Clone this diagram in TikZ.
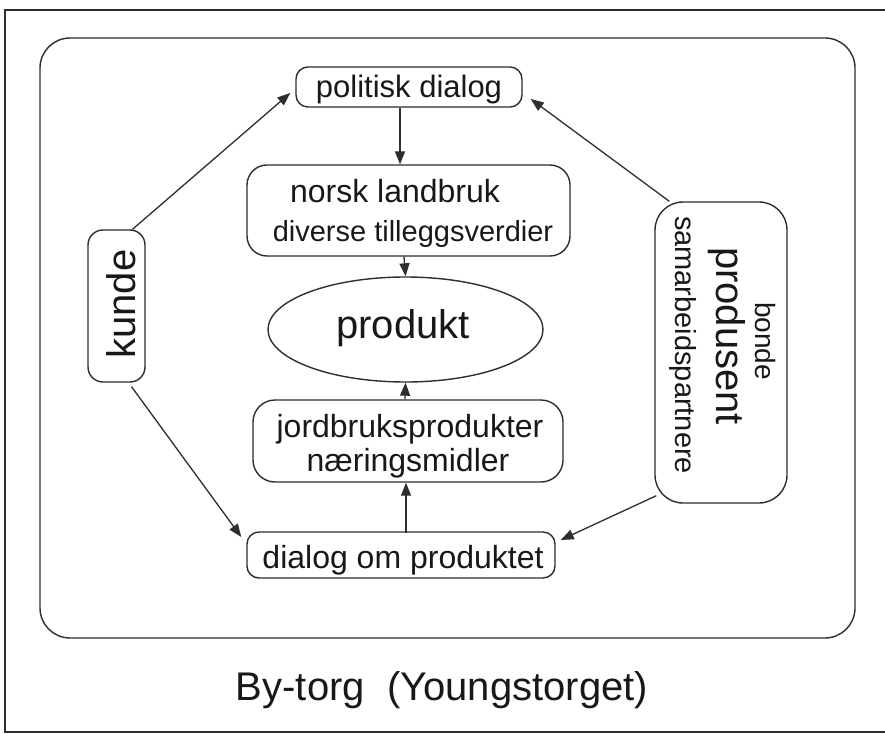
\documentclass[tikz,border=0pt]{standalone}
\usepackage{fontspec}
\setmainfont{Liberation Sans}
\usetikzlibrary{arrows.meta,calc,shapes.geometric}
\definecolor{linec}{HTML}{2e2e2e}
\definecolor{textc}{HTML}{181818}
\newcommand{\myfs}[1]{\fontsize{#1}{#1}\selectfont}
\begin{document}
\begin{tikzpicture}[x=1pt,y=-1pt,
 box/.style={draw=linec, line width=1.4pt, inner sep=0pt, rounded corners=#1},
 box/.default=12pt,
 txt/.style={text=textc, inner sep=0pt},
 arr/.style={draw=linec, line width=1.3pt, -{Triangle[length=13pt,width=10pt]}}
 ]
\useasboundingbox (0,0) rectangle (885,733);
\fill[white] (0,0) rectangle (885,733);
\draw[linec, line width=1.6pt] (890,10) -- (5,10) -- (5,732) -- (890,732);
\node[box=30pt, minimum width=815pt, minimum height=600pt] (frame) at (447.5,338) {};

% boxes
\node[box=12pt, minimum width=226pt, minimum height=40pt] (pol) at (409,87) {};
\node[box=20pt, minimum width=323pt, minimum height=91pt] (nl) at (408.5,210.5) {};
\node[draw=linec, line width=1.4pt, ellipse, inner sep=0pt, minimum width=275pt, minimum height=105pt] (el) at (405.5,329.5) {};
\node[box=22pt, minimum width=310pt, minimum height=82pt] (jb) at (408,441) {};
\node[box=12pt, minimum width=308pt, minimum height=46pt] (dp) at (401,555) {};
\node[box=15pt, minimum width=57pt, minimum height=152pt] (kunde) at (116.5,306) {};
\node[box=28pt, minimum width=132pt, minimum height=301pt] (prod) at (721,352.5) {};

% texts
\node[txt, font=\myfs{31}, anchor=base] (tpol) at (409,98) {politisk dialog};
\node[txt, font=\myfs{32}, anchor=base] (tnl1) at (395,202) {norsk landbruk};
\node[txt, font=\myfs{29}, anchor=base] (tnl2) at (413,241) {diverse tilleggsverdier};
\node[txt, font=\myfs{40}, anchor=base] (tel) at (403,338) {produkt};
\node[txt, font=\myfs{32}, anchor=base] (tjb1) at (410,437) {jordbruksprodukter};
\node[txt, font=\myfs{32}, anchor=base] (tjb2) at (408,471) {næringsmidler};
\node[txt, font=\myfs{32}, anchor=base] (tdp) at (403,568) {dialog om produktet};
\node[txt, font=\myfs{40}, anchor=base, rotate=90] (tk) at (135,304) {kunde};
\node[txt, font=\myfs{28}, anchor=base, rotate=-90] (tb) at (755,341) {bonde};
\node[txt, font=\myfs{40}, anchor=base, rotate=-90] (tp) at (716,336) {produsent};
\node[txt, font=\myfs{29}, anchor=base, rotate=-90] (ts) at (675,345) {samarbeidspartnere};
\node[txt, font=\myfs{40}, anchor=base] (tby) at (442,700) {By-torg\ \ (Youngstorget)};

% arrows
\draw[arr] ($(pol.south)+(-9,0)$) -- ($(nl.north)+(-8.5,0)$);
\draw[arr] ($(nl.south)+(-4.5,0)$) -- (el.north);
\draw[arr] ($(jb.north)+(-3,0)$) -- (el.south);
\draw[arr] ($(dp.south)+(5,-46)$) -- ($(jb.south)+(-2,0)$);
\draw[arr] ($(kunde.north)+(16,0)$) -- ($(pol.west)+(-5,6)$);
\draw[arr] ($(kunde.south)+(15,4)$) -- ($(dp.west)+(-5,-18)$);
\draw[arr] ($(prod.north west)+(15,0)$) -- ($(pol.east)+(8,12)$);
\draw[arr] ($(prod.south west)+(2,-8)$) -- ($(dp.east)+(5,-15)$);
\end{tikzpicture}
\end{document}
